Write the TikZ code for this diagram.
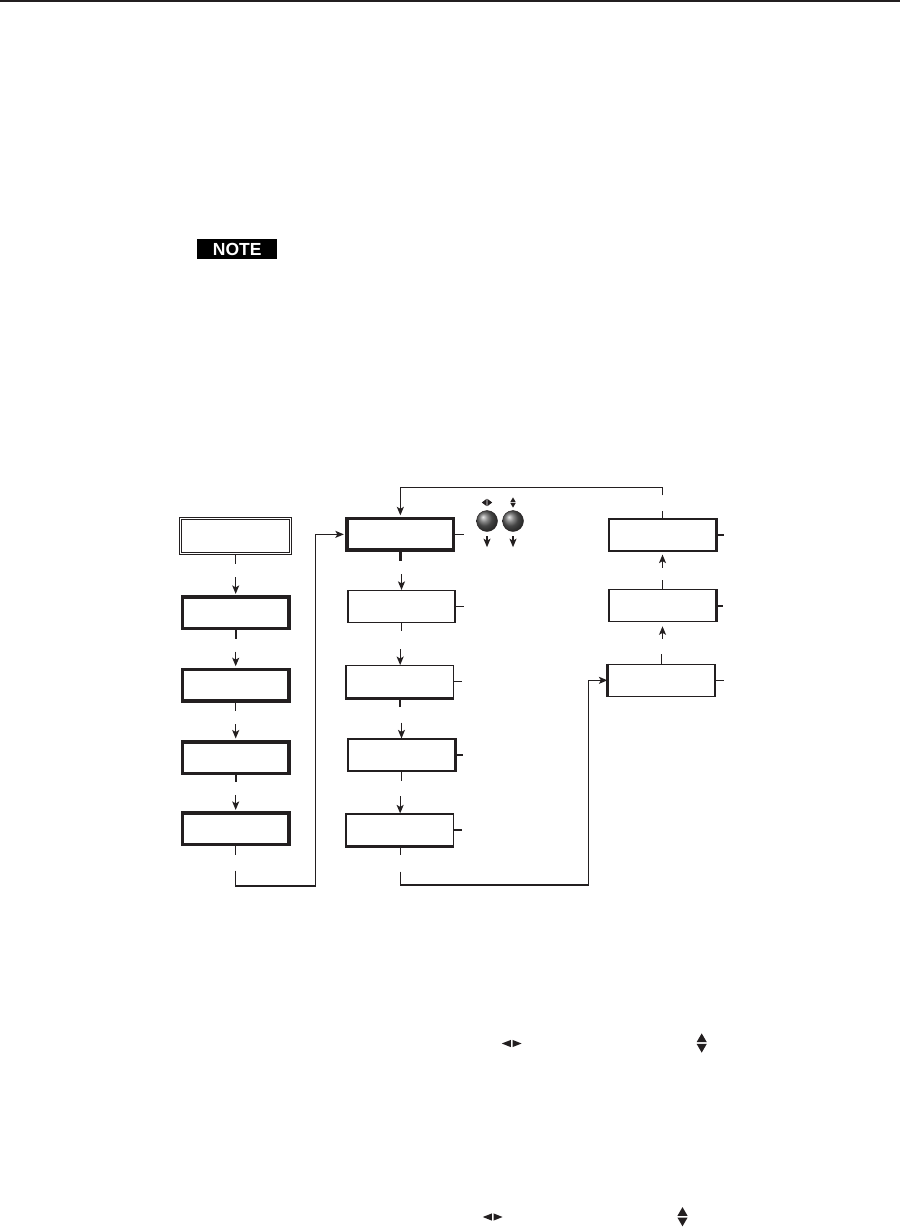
\documentclass[tikz,border=0pt]{standalone}
\usepackage{fontspec}
\newfontfamily\notefont{Liberation Sans}
\usetikzlibrary{arrows.meta,calc}
\definecolor{ink}{HTML}{231F20}
\tikzset{
  conn/.style={draw=ink, line width=1.3},
  arr/.style={conn, -{Stealth[length=8.5pt,width=7pt,inset=2pt]}},
  stub/.style={draw=ink, line width=1.3},
  stubthick/.style={draw=ink, line width=2.3},
  sidethick/.style={draw=ink, line width=2.6},
  boxthick/.style={draw=ink, line width=3.5, rectangle, inner sep=0, minimum width=106.5, minimum height=31.5},
  boxthin/.style={draw=ink, line width=1.2, rectangle, inner sep=0, minimum width=107, minimum height=32},
  boxdouble/.style={draw=ink, double=white, line width=1.1, double distance=1.6, rectangle, inner sep=0, minimum width=110, minimum height=35},
  knob/.style={circle, minimum size=21, inner sep=0, shade, ball color=black!62, draw=ink, line width=0.4},
  notebox/.style={fill=black, text=white, rectangle, inner sep=0, minimum width=80, minimum height=20.3, font=\notefont\bfseries\fontsize{17.5}{18}\selectfont},
  lricon/.pic={
    \fill[ink] (-0.45,-3.6) -- (-0.45,3.6) -- (-5.2,0) -- cycle;
    \fill[ink] (0.45,-3.6) -- (0.45,3.6) -- (5.2,0) -- cycle;
  },
  udicon/.pic={
    \fill[ink] (-3.2,-0.5) -- (3.2,-0.5) -- (0,-6) -- cycle;
    \fill[ink] (-3.2,0.5) -- (3.2,0.5) -- (0,6) -- cycle;
  },
}
\begin{document}
\begin{tikzpicture}[x=1pt,y=-1pt]
\useasboundingbox (0,0) rectangle (900,1227);
% top rule
\fill[ink] (0,0) rectangle (900,2.4);
% NOTE label
\node[notebox] (note) at (237.3,249.2) {NOTE};

% left column
\node[boxdouble] (L1) at (235.5,536) {};
\node[boxthick]  (L2) at (235.7,612.9) {};
\node[boxthick]  (L3) at (235.7,685.2) {};
\node[boxthick]  (L4) at (235.7,757.5) {};
\node[boxthick]  (L5) at (235.7,828.9) {};

% middle column
\node[boxthick] (M1) at (400.35,534.35) {};
\node[boxthin]  (M2) at (401.5,606.5) {};
\node[boxthin]  (M3) at (400.15,681.65) {};
\node[boxthin]  (M4) at (401.5,755) {};
\node[boxthin]  (M5) at (400.15,830) {};

% right column
\node[boxthin] (R1) at (662.5,535) {};
\node[boxthin] (R2) at (662.5,605.7) {};
\node[boxthin] (R3) at (661.5,680.3) {};

% heavier sides
\draw[sidethick] (M3.north west) -- (M3.south west) -- (M3.south east);
\draw[sidethick] (M4.north east) -- (M4.south east);
\draw[sidethick] (M5.north west) -- (M5.south west) -- (M5.south east);
\draw[sidethick] (R1.north east) -- (R1.south east);
\draw[sidethick] (R2.north east) -- (R2.south east);
\draw[sidethick] (R3.north west) -- (R3.south west);

% knobs
\node[knob] (K1) at (487,521) {};
\node[knob] (K2) at (513,521) {};
\pic at (487,502.5) {lricon};
\pic[scale=0.85] at (513,502.5) {udicon};
\draw[arr] ($(K1.south)+(0,4.5)$) -- ++(0,11);
\draw[arr] ($(K2.south)+(0,4.5)$) -- ++(0,11);

% left column connectors
\draw[stub] (L1.south) -- ++(0,9.8);
\draw[arr, shorten >=1.5] ($(L2.north)+(0,-18)$) -- (L2.north);
\draw[stubthick] (L2.south) -- ++(0,8.7);
\draw[arr, shorten >=1.5] ($(L3.north)+(0,-16)$) -- (L3.north);
\draw[stub] (L3.south) -- ++(0,8);
\draw[arr, shorten >=1.5] ($(L4.north)+(0,-16)$) -- (L4.north);
\draw[stubthick] (L4.south) -- ++(0,7);
\draw[arr, shorten >=1.5] ($(L5.north)+(0,-16.5)$) -- (L5.north);
\draw[stub] (L5.south) -- ++(0,9);
\draw[arr, shorten >=1.5] ($(L5.south)+(0,24.3)$) -- ++(0,15.2) -| ($(M1.west)+(-29.7,0)$) -- (M1.west);

% middle column connectors
\draw[stubthick] (M1.south) -- ++(0,9.5);
\draw[arr] ($(M2.north)+(0,-15.5)$) -- (M2.north);
\draw[stub] (M2.south) -- ++(0,7.5);
\draw[arr] ($(M3.north)+(0,-15.6)$) -- (M3.north);
\draw[stubthick] (M3.south) -- ++(0,9);
\draw[arr] ($(M4.north)+(0,-15.7)$) -- (M4.north);
\draw[stub] (M4.south) -- ++(0,9.7);
\draw[arr] ($(M5.north)+(0,-17)$) -- (M5.north);
\draw[stub] (M5.south) -- ++(0,8);
\draw[arr] ($(M5.south)+(0,25)$) -- ++(0,13.3) -| ($(R3.west)+(-18.7,0)$) -- (R3.west);

% side stubs
\draw[stub] (M1.east) -- ++(9,0);
\draw[stub] (M2.east) -- ++(8,0);
\draw[stub] (M3.east) -- ++(8,0);
\draw[stub] (M4.east) -- ++(7.5,0);
\draw[stub] (M5.east) -- ++(8,0);
\draw[stub] (R1.east) -- ++(7.5,0);
\draw[stubthick] (R2.east) -- ++(6.5,0);
\draw[stub] (R3.east) -- ++(8.5,0);

% right column connectors
\draw[stub] (R3.north) -- ++(0,-9.5);
\draw[arr, shorten >=4] ($(R2.south)+(0,16.6)$) -- (R2.south);
\draw[stub] (R2.north) -- ++(0,-8.7);
\draw[arr, shorten >=3] ($(R1.south)+(0,16.2)$) -- (R1.south);
\draw[stub] (R1.north) -- ++(0,-7.5);
\draw[arr, shorten >=1.5] ($(R1.north)+(0,-23)$) |- ($(M1.north)+(0,-29.5)$) -- (M1.north);

% inline symbols in the text below
\pic[xscale=1.9] at (511.7,1043.5) {lricon};
\pic[scale=1.6] at (701.7,1043) {udicon};
\pic[xscale=1.9] at (492.7,1217) {lricon};
\pic[scale=1.6] at (682.5,1216.7) {udicon};
\end{tikzpicture}
\end{document}
